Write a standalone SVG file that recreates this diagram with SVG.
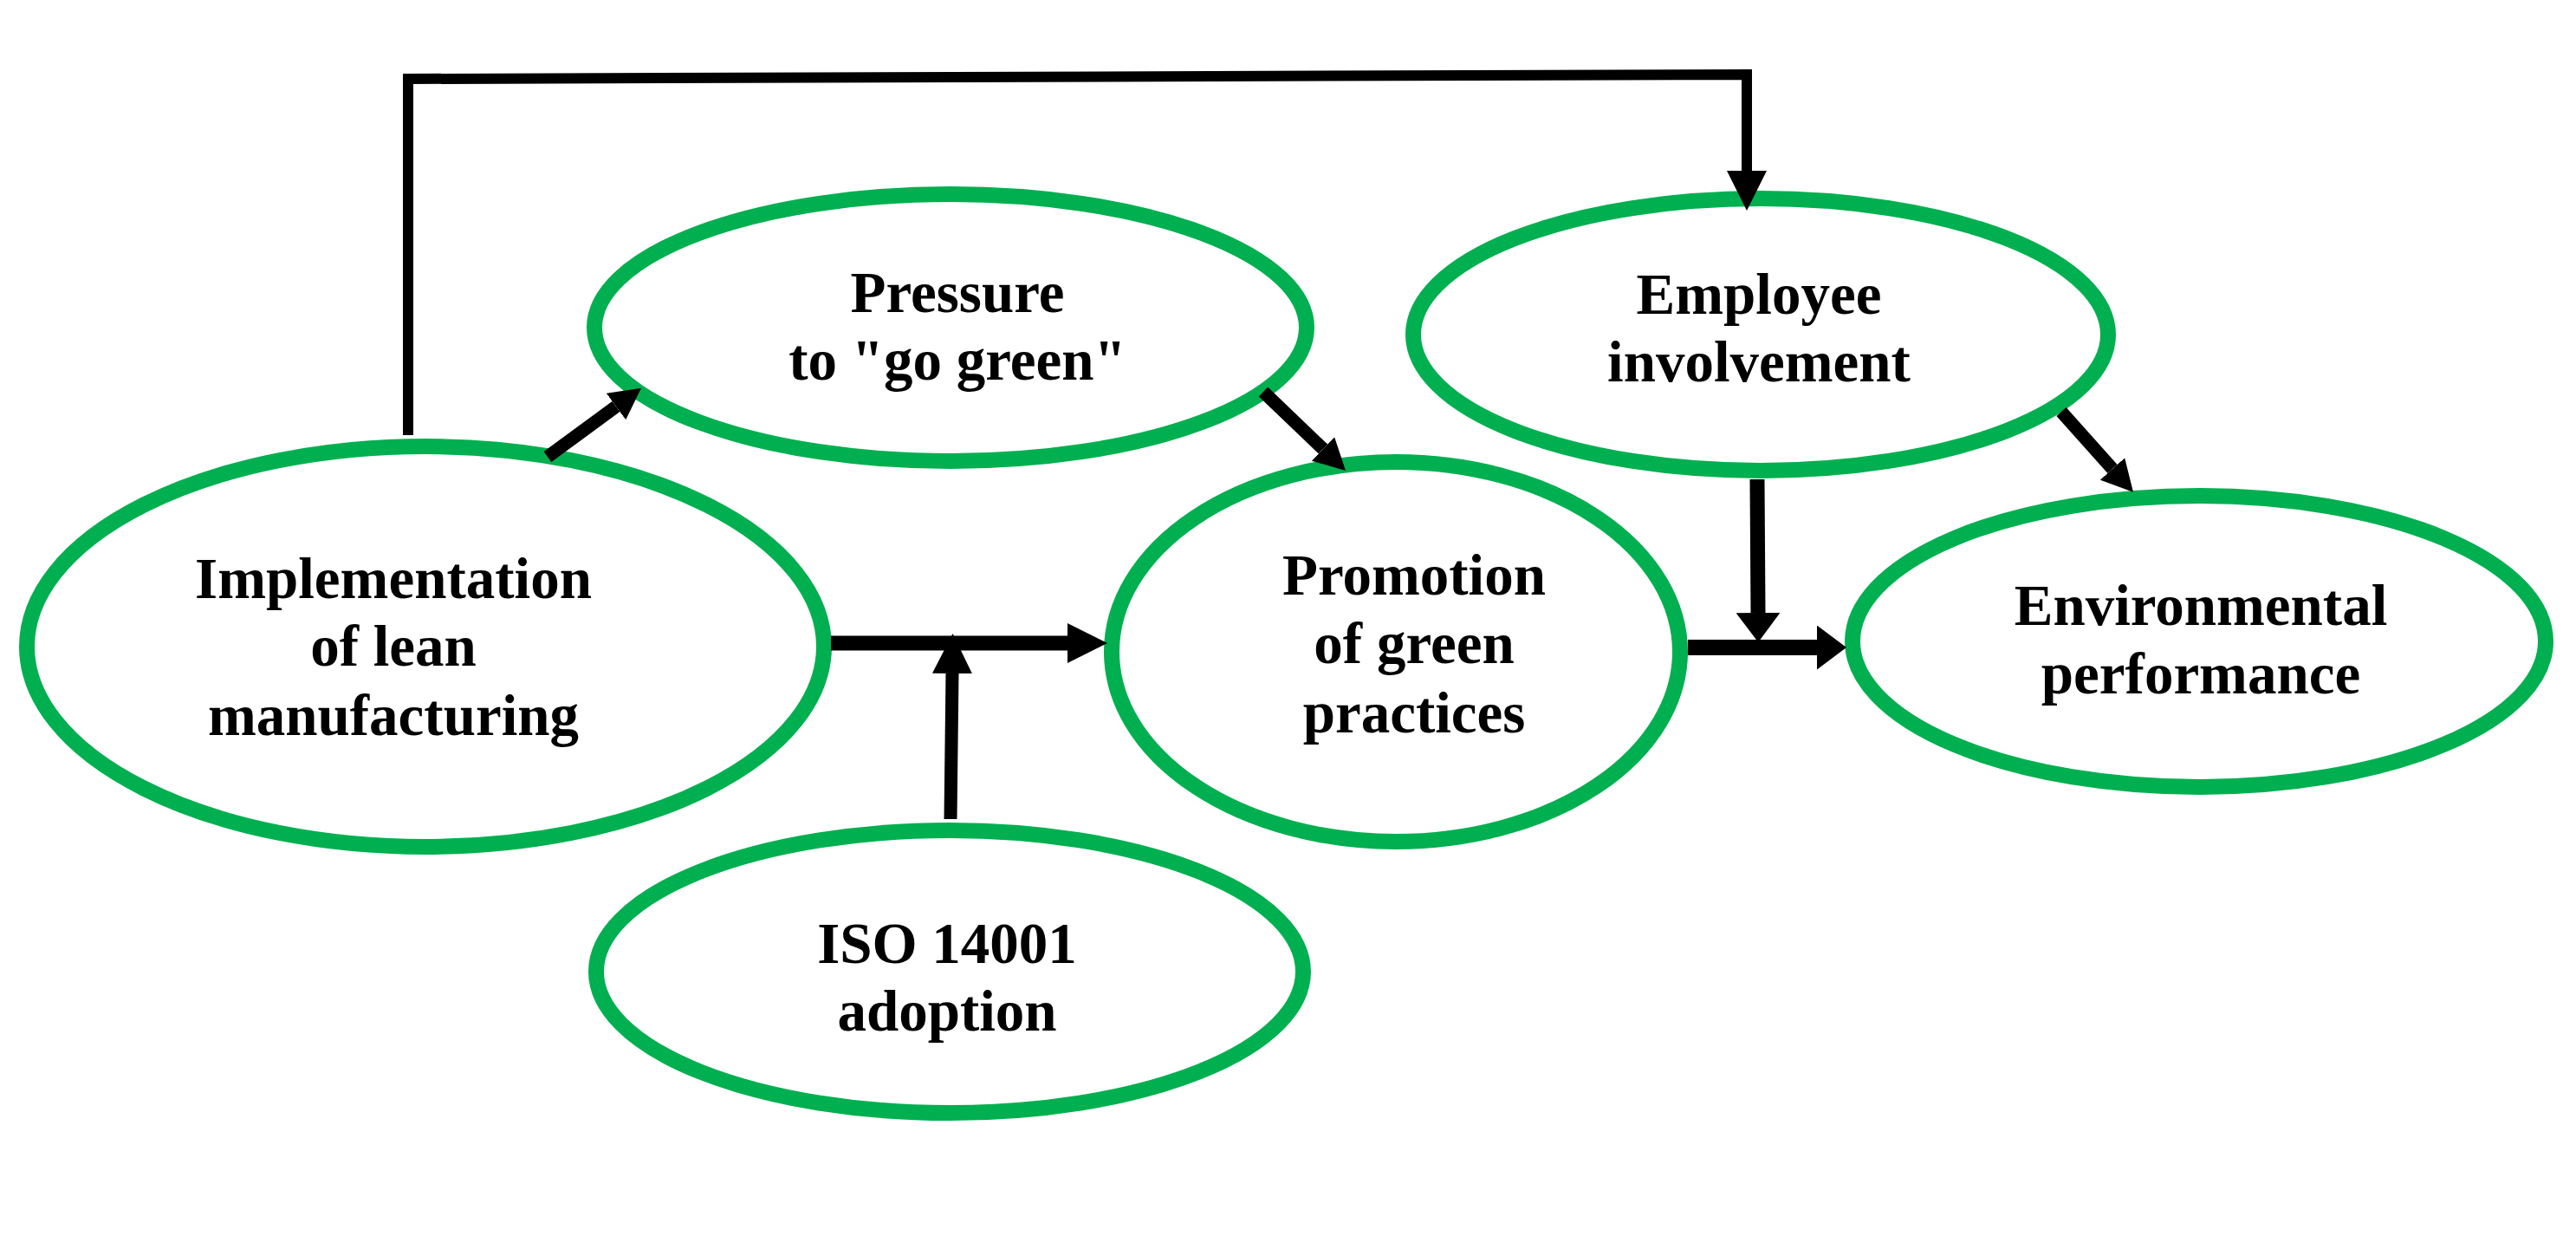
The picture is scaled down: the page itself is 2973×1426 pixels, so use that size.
<svg xmlns="http://www.w3.org/2000/svg" width="2973" height="1426" viewBox="0 0 2973 1426">
<style>
.node ellipse{fill:#FFFFFF;stroke:#00B050;stroke-width:18}
.node text{font-family:"Liberation Serif","Times New Roman",serif;font-weight:bold;font-size:67px;fill:#000000;text-anchor:middle}
.conn line,.conn polyline{stroke:#000000;fill:none;stroke-linecap:butt;stroke-linejoin:miter}
</style>
<defs>
<marker id="headL" markerUnits="userSpaceOnUse" markerWidth="46" markerHeight="46" refX="0" refY="23" orient="auto" viewBox="0 0 46 46"><path d="M0,0 L46,23 L0,46 Z" fill="#000000"/></marker>
<marker id="headS" markerUnits="userSpaceOnUse" markerWidth="34" markerHeight="51" refX="0" refY="25.5" orient="auto" viewBox="0 0 34 51"><path d="M0,0 L34,25.5 L0,51 Z" fill="#000000"/></marker>
<marker id="headD" markerUnits="userSpaceOnUse" markerWidth="36" markerHeight="38" refX="0" refY="19" orient="auto" viewBox="0 0 36 38"><path d="M0,0 L36,19 L0,38 Z" fill="#000000"/></marker>
</defs>
<rect width="2973" height="1426" fill="#FFFFFF"/>
<g id="node-implementation" class="node">
<ellipse cx="491" cy="746" rx="460" ry="231"/>
<text x="454" y="690">Implementation</text>
<text x="454" y="768">of lean</text>
<text x="454" y="848">manufacturing</text>
</g>
<g id="node-pressure" class="node">
<ellipse cx="1097" cy="378" rx="411" ry="154"/>
<text x="1105" y="360">Pressure</text>
<text x="1105" y="438">to "go green"</text>
</g>
<g id="node-employee" class="node">
<ellipse cx="2032" cy="386" rx="401" ry="157"/>
<text x="2030" y="362">Employee</text>
<text x="2030" y="440">involvement</text>
</g>
<g id="node-promotion" class="node">
<ellipse cx="1611" cy="752" rx="328" ry="219"/>
<text x="1632" y="686">Promotion</text>
<text x="1632" y="765">of green</text>
<text x="1632" y="845">practices</text>
</g>
<g id="node-environmental" class="node">
<ellipse cx="2538" cy="740" rx="400" ry="168"/>
<text x="2540" y="721">Environmental</text>
<text x="2540" y="800">performance</text>
</g>
<g id="node-iso" class="node">
<ellipse cx="1096" cy="1121" rx="408" ry="163"/>
<text x="1093" y="1111">ISO 14001</text>
<text x="1093" y="1189">adoption</text>
</g>
<g id="connectors" class="conn">
<polyline points="471,502 471,91 2016,86 2016,197" stroke-width="12" marker-end="url(#headL)"/>
<line x1="632" y1="527" x2="711" y2="469" stroke-width="15" marker-end="url(#headD)"/>
<line x1="1458" y1="452" x2="1527" y2="518" stroke-width="15" marker-end="url(#headD)"/>
<line x1="959" y1="742" x2="1232" y2="742" stroke-width="17" marker-end="url(#headL)"/>
<line x1="1097" y1="945" x2="1099" y2="777" stroke-width="15" marker-end="url(#headL)"/>
<line x1="2379" y1="475" x2="2438" y2="541" stroke-width="15" marker-end="url(#headD)"/>
<line x1="2028" y1="553" x2="2029" y2="707" stroke-width="17" marker-end="url(#headS)"/>
<line x1="1948" y1="747" x2="2097" y2="747" stroke-width="18" marker-end="url(#headS)"/>
</g>
</svg>
